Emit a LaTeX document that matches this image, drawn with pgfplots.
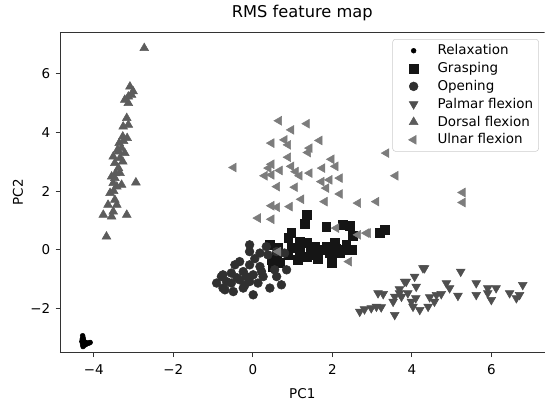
\documentclass[border=0pt]{standalone}
\usepackage{fontspec}
\setmainfont{DejaVu Sans}
\usepackage{pgfplots}
\pgfplotsset{compat=1.18}

\definecolor{relax}{HTML}{000000}
\definecolor{grasp}{HTML}{151515}
\definecolor{openc}{HTML}{303030}
\definecolor{palmar}{HTML}{4F4F4F}
\definecolor{dorsal}{HTML}{5C5C5C}
\definecolor{ulnar}{HTML}{7C7C7C}

\begin{document}
\begin{tikzpicture}
\begin{axis}[
    scale only axis,
    width=363.75pt, height=240.75pt,
    xmin=-4.85, xmax=7.34,
    ymin=-3.50, ymax=7.41,
    axis x line*=bottom, axis y line*=left,
    axis line style={-, line width=0.6pt, black!80},
    tick align=outside, xtick pos=left, ytick pos=left,
    major tick length=3.2pt,
    tick style={line width=0.6pt, black!80},
    xtick={-4,-2,0,2,4,6}, xticklabels={−4,−2,0,2,4,6},
    ytick={-2,0,2,4,6}, yticklabels={−2,0,2,4,6},
    ticklabel style={font=\fontsize{10.1}{12}\selectfont},
    xticklabel style={anchor=north, inner sep=0pt, yshift=-5.5pt},
    yticklabel style={anchor=east, inner sep=0pt, xshift=-4pt},
    title={RMS feature map},
    title style={font=\fontsize{12.2}{14}\selectfont, anchor=base,
        at={([yshift=4.5pt]axis description cs:0.5,1)}},
    xlabel={PC1},
    xlabel style={font=\fontsize{10.1}{12}\selectfont, anchor=base,
        at={([yshift=-34pt]axis description cs:0.5,0)}},
    ylabel={PC2},
    ylabel style={font=\fontsize{10.1}{12}\selectfont, anchor=base,
        at={([xshift=-27.75pt]axis description cs:0,0.5)}},
    legend cell align=left,
    legend image code/.code={
        \path (-8.25pt,0pt) (21pt,0pt);
        \draw[#1] plot coordinates {(5.25pt,0pt)};
    },
    legend style={at={(0.988,0.978)}, anchor=north east,
        draw=black!20, rounded corners=2pt,
        font=\fontsize{10.1}{12}\selectfont,
        row sep=0.2pt, inner sep=2pt},
]
% Relaxation
\addplot[only marks, mark=*, mark size=1.8pt, color=relax] coordinates {
(-4.28,-2.92)(-4.27,-2.98)(-4.29,-3.04)(-4.26,-3.09)(-4.30,-3.12)(-4.25,-3.17)
(-4.22,-3.15)(-4.18,-3.16)(-4.12,-3.17)(-4.09,-3.15)(-4.28,-3.22)(-4.24,-3.25)
(-4.27,-3.29)(-4.23,-3.20)(-4.20,-3.22)(-4.26,-3.05)(-4.15,-3.18)
};
% Grasping
\addplot[only marks, mark=square*, mark size=3.3pt, color=grasp] coordinates {
(1.36,1.19)(1.31,0.88)(1.85,0.79)(2.27,0.85)(2.44,0.82)(2.52,0.48)(3.32,0.68)
(3.19,0.57)(0.97,0.57)(0.89,0.40)(1.35,0.25)(0.43,0.17)(0.64,0.06)(0.97,0.06)
(1.18,0.00)(1.56,0.11)(1.85,0.11)(2.06,0.23)(2.35,0.06)(2.48,0.00)(1.60,-0.17)
(1.93,-0.11)(2.19,-0.11)(0.89,-0.17)(1.14,-0.34)(1.35,-0.23)(1.64,-0.32)
(1.98,-0.45)(0.60,-0.23)(0.47,-0.34)(0.68,-0.45)(0.51,-0.57)(2.35,0.17)
(2.23,0.00)(1.18,0.28)(1.73,0.00)(2.10,0.05)(1.45,-0.05)
};
% Opening
\addplot[only marks, mark=*, mark size=3.3pt, color=openc] coordinates {
(-0.08,0.17)(-0.08,-0.06)(0.18,-0.11)(0.38,-0.17)(0.80,-0.11)(-0.33,-0.40)
(-0.45,-0.51)(-0.08,-0.51)(0.18,-0.57)(0.55,-0.68)(0.85,-0.68)(-0.75,-0.85)
(-0.54,-0.79)(-0.24,-0.74)(0.01,-0.85)(0.26,-0.91)(0.60,-0.91)(-0.91,-1.13)
(-0.66,-1.08)(-0.33,-1.02)(-0.08,-1.08)(0.13,-1.13)(0.43,-1.30)(0.72,-1.19)
(-0.70,-1.36)(-0.49,-1.42)(-0.24,-1.30)(0.01,-1.53)(-0.54,-1.13)(-0.16,-0.91)
(0.22,-0.74)(0.34,0.11)(0.60,-0.06)(-0.79,-0.91)(-0.75,-1.30)(-0.20,-1.20)
(0.05,-0.30)(-0.40,-0.95)
};
% Palmar flexion
\addplot[only marks, mark=triangle*, mark size=3.8pt, color=palmar,
    every mark/.append style={rotate=180}] coordinates {
(4.32,-0.62)(5.23,-0.74)(4.07,-0.91)(3.86,-1.08)(4.87,-1.13)(5.62,-1.13)
(6.79,-1.19)(4.11,-1.25)(3.69,-1.34)(4.95,-1.30)(5.91,-1.30)(6.12,-1.30)
(6.46,-1.47)(6.71,-1.53)(3.15,-1.47)(3.28,-1.50)(3.90,-1.47)(4.62,-1.53)
(4.74,-1.50)(5.16,-1.56)(5.62,-1.53)(5.91,-1.47)(3.57,-1.59)(3.74,-1.59)
(4.45,-1.61)(4.10,-1.64)(6.00,-1.70)(6.63,-1.64)(3.53,-1.76)(3.99,-1.76)
(4.57,-1.76)(2.81,-2.02)(2.98,-1.98)(3.11,-1.93)(3.23,-1.95)(4.03,-1.93)
(4.20,-2.04)(4.41,-1.93)(3.57,-2.21)(2.69,-2.10)(4.28,-0.62)(3.82,-1.08)
(3.69,-1.47)
};
% Dorsal flexion
\addplot[only marks, mark=triangle*, mark size=3.8pt, color=dorsal] coordinates {
(-2.73,6.86)(-3.09,5.55)(-3.01,5.39)(-3.13,5.21)(-3.05,5.27)(-3.22,5.10)
(-3.13,4.99)(-3.17,4.48)(-3.26,4.19)(-3.13,4.25)(-3.27,3.85)(-3.16,3.80)
(-3.36,3.63)(-3.30,3.46)(-3.38,3.34)(-3.22,3.29)(-3.51,3.17)(-3.34,3.12)
(-3.47,2.95)(-3.27,3.00)(-3.38,2.78)(-3.55,2.49)(-3.47,2.44)(-3.34,2.61)
(-3.51,2.27)(-3.42,2.15)(-3.30,2.21)(-2.94,2.29)(-3.59,1.93)(-3.47,1.70)
(-3.64,1.53)(-3.42,1.53)(-3.76,1.19)(-3.55,1.13)(-3.51,1.30)(-3.17,1.19)
(-3.68,0.45)(-3.40,3.40)(-3.45,2.60)(-3.25,3.70)(-3.50,2.00)
};
% Ulnar flexion
\addplot[only marks, mark=triangle*, mark size=3.8pt, color=ulnar,
    every mark/.append style={rotate=90}] coordinates {
(0.66,4.39)(1.36,4.29)(0.97,4.08)(0.47,3.63)(0.80,3.74)(0.89,3.57)(1.68,3.72)
(1.43,3.46)(1.39,3.31)(0.89,3.15)(1.98,3.08)(3.36,3.29)(-0.48,2.80)(0.47,2.91)
(0.40,2.78)(0.68,2.70)(0.97,2.84)(1.08,2.66)(1.18,2.52)(1.43,2.61)(1.75,2.78)
(2.08,2.84)(0.30,2.52)(0.47,2.55)(1.73,2.32)(1.93,2.38)(2.19,2.44)(1.85,2.10)
(3.59,2.52)(0.61,2.15)(1.06,2.13)(2.19,1.90)(1.22,1.72)(1.81,1.64)(2.65,1.59)
(3.11,1.64)(0.47,1.50)(0.61,1.45)(0.93,1.47)(0.13,1.08)(0.47,1.04)(2.10,0.74)
(2.65,0.51)(2.90,0.57)(0.64,-0.06)(2.42,-0.40)(5.28,1.95)(5.28,1.61)(2.86,0.57)
};
\legend{Relaxation, Grasping, Opening, Palmar flexion, Dorsal flexion, Ulnar flexion}
% top spine only; the right one lies outside the cropped reference
\draw[line width=0.6pt, black!80] (rel axis cs:0,1) -- (rel axis cs:1,1);
\end{axis}
% page frame: the reference leaves room left of and below the labels
\path (current axis.south west) +(-45pt,-35.25pt);
\path (current axis.north east) +(0pt,24pt);
\end{tikzpicture}
\end{document}
